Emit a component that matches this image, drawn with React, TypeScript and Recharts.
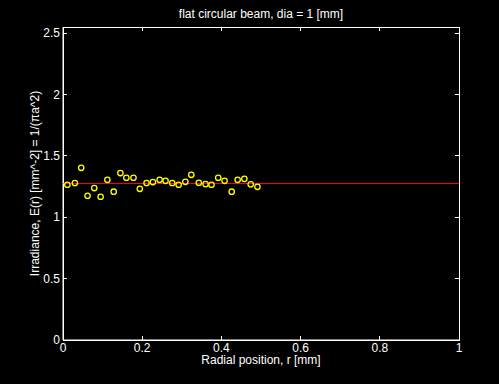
import React from 'react';
import {
  ScatterChart,
  Scatter,
  XAxis,
  YAxis,
  ReferenceLine,
  ReferenceArea,
} from 'recharts';

// sampled radial positions [mm] and measured irradiance
const radius = [
  0.011, 0.03, 0.046, 0.062, 0.079, 0.095, 0.112, 0.128, 0.145, 0.16,
  0.178, 0.194, 0.211, 0.227, 0.244, 0.259, 0.276, 0.292, 0.309, 0.324,
  0.343, 0.36, 0.375, 0.392, 0.408, 0.426, 0.441, 0.458, 0.474, 0.491,
];
const irradiance = [
  1.265, 1.279, 1.403, 1.175, 1.238, 1.167, 1.305, 1.208, 1.36, 1.322,
  1.322, 1.232, 1.279, 1.287, 1.305, 1.297, 1.279, 1.265, 1.289, 1.346,
  1.281, 1.27, 1.265, 1.322, 1.297, 1.208, 1.305, 1.313, 1.268, 1.248,
];
const theory = 1.2732; // 1/(pi a^2), a = 0.5 mm

const xTicks = [0, 0.2, 0.4, 0.6, 0.8, 1];
const yTicks = [0, 0.5, 1, 1.5, 2, 2.5];
const xDomain = [0, 1];
const yDomain = [0, 2.55];

const FONT = '"Liberation Sans", Arial, Helvetica, sans-serif';

// plot box edges in px (follow from the chart margins below)
const BOX = { left: 63, right: 459, top: 27, bottom: 340 };
const TICK = 4;

const points = radius.map((r, i) => ({ r, e: irradiance[i] }));

function Ring(props: any) {
  const { cx, cy } = props;
  if (cx == null || cy == null) return <g />;
  return <circle cx={cx} cy={cy} r={2.7} fill="none" stroke="#ffff00" strokeWidth={1.3} />;
}

// matlab style: ticks point into the box, on both opposite sides
function XTick(props: any) {
  const { x, payload } = props;
  return (
    <g>
      <line x1={x} x2={x} y1={BOX.bottom} y2={BOX.bottom - TICK} stroke="#fff" shapeRendering="crispEdges" />
      <line x1={x} x2={x} y1={BOX.top} y2={BOX.top + TICK} stroke="#fff" shapeRendering="crispEdges" />
      <text x={x} y={BOX.bottom + 3} dy="0.71em" textAnchor="middle" fill="#fff" fontSize={12} fontFamily={FONT}>
        {String(payload.value)}
      </text>
    </g>
  );
}

function YTick(props: any) {
  const { y, payload } = props;
  return (
    <g>
      <line x1={BOX.left} x2={BOX.left + TICK} y1={y} y2={y} stroke="#fff" shapeRendering="crispEdges" />
      <line x1={BOX.right} x2={BOX.right - TICK} y1={y} y2={y} stroke="#fff" shapeRendering="crispEdges" />
      <text x={BOX.left - 3} y={y} dy="0.35em" textAnchor="end" fill="#fff" fontSize={12} fontFamily={FONT}>
        {String(payload.value)}
      </text>
    </g>
  );
}

export default function App() {
  return (
    <div
      style={{
        position: 'absolute',
        left: 0,
        top: 0,
        width: 499,
        height: 384,
        background: '#000',
        fontFamily: FONT,
      }}
    >
      <div
        style={{
          position: 'absolute',
          left: 0,
          top: 7,
          width: 522,
          textAlign: 'center',
          color: '#fff',
          fontSize: 12,
          lineHeight: '14px',
        }}
      >
        flat circular beam, dia = 1 [mm]
      </div>
      <ScatterChart
        width={499}
        height={384}
        margin={{ top: BOX.top, right: 499 - BOX.right, bottom: 0, left: 0 }}
        style={{ fontFamily: FONT }}
      >
        <XAxis
          xAxisId="b"
          dataKey="r"
          type="number"
          domain={xDomain}
          ticks={xTicks}
          height={384 - BOX.bottom}
          stroke="#fff"
          tickLine={false}
          tick={<XTick />}
          label={{
            value: 'Radial position, r [mm]',
            position: 'insideBottom',
            offset: 20,
            fill: '#fff',
            fontSize: 12,
          }}
        />
        <YAxis
          yAxisId="l"
          dataKey="e"
          type="number"
          domain={yDomain}
          ticks={yTicks}
          width={BOX.left}
          stroke="#fff"
          tickLine={false}
          tick={<YTick />}
          label={{
            value: 'Irradiance, E(r) [mm^-2] = 1/(\u03c0a^2)',
            angle: -90,
            position: 'insideLeft',
            offset: 35,
            fill: '#fff',
            fontSize: 12,
            style: { textAnchor: 'middle' },
          }}
        />
        <ReferenceArea
          xAxisId="b"
          yAxisId="l"
          x1={xDomain[0]}
          x2={xDomain[1]}
          y1={yDomain[0]}
          y2={yDomain[1]}
          fill="none"
          stroke="#fff"
          strokeWidth={1}
          shapeRendering="crispEdges"
        />
        <ReferenceLine
          xAxisId="b"
          yAxisId="l"
          y={theory}
          stroke="#ff0000"
          strokeWidth={1}
          shapeRendering="crispEdges"
        />
        <Scatter
          xAxisId="b"
          yAxisId="l"
          data={points}
          shape={Ring}
          isAnimationActive={false}
        />
      </ScatterChart>
    </div>
  );
}
